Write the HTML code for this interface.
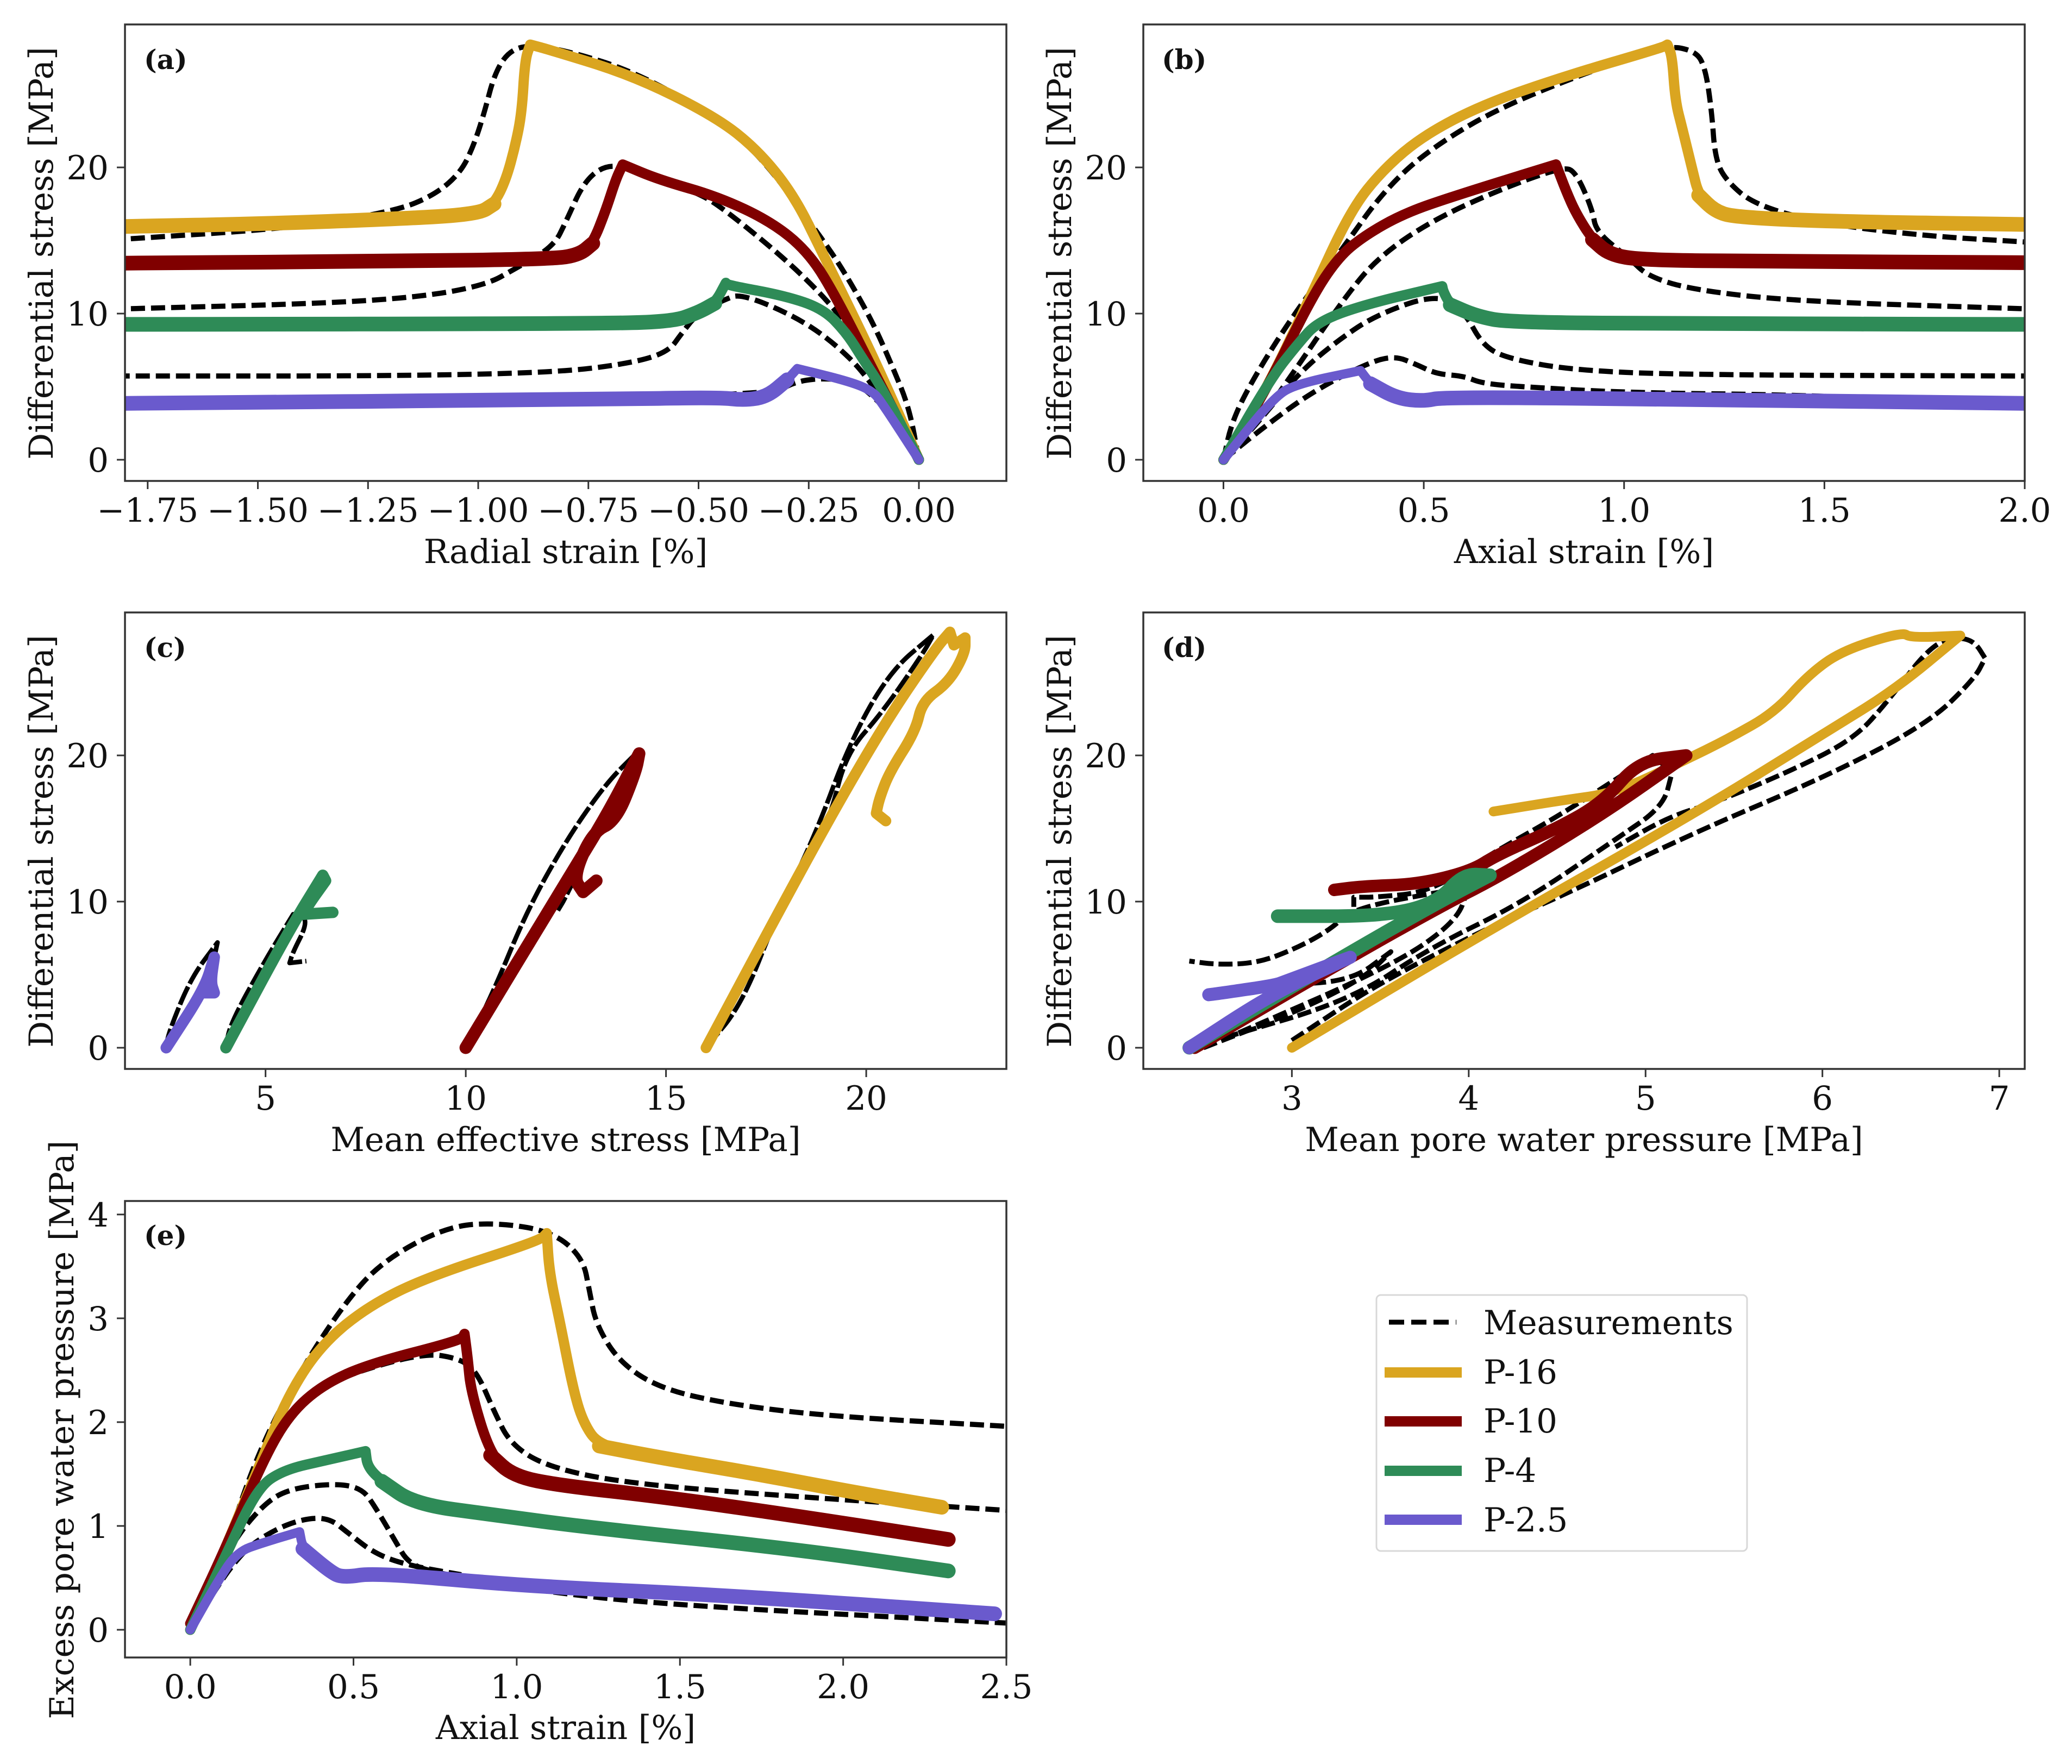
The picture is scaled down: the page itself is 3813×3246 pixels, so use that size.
<!DOCTYPE html>
<html lang="en">
<head>
<meta charset="utf-8">
<title>Stress and pore pressure response: measurements versus P-series simulations</title>
<style>
html,body{margin:0;padding:0;background:#fff;}
svg{display:block;font-family:"DejaVu Serif","Liberation Serif",serif;}
text{fill:#111;}
</style>
</head>
<body>
<svg id="figure" xmlns="http://www.w3.org/2000/svg" width="3813" height="3246" viewBox="0 0 3813 3246">
  <rect width="3813" height="3246" fill="#fff"/>
  <g id="panels"></g>

  <text x="265" y="127" font-size="50" font-weight="700">(a)</text>
  <text x="2138" y="127" font-size="50" font-weight="700">(b)</text>
  <text x="265" y="1209" font-size="50" font-weight="700">(c)</text>
  <text x="2138" y="1209" font-size="50" font-weight="700">(d)</text>
  <text x="265" y="2291" font-size="50" font-weight="700">(e)</text>

  <text x="1041" y="1036" font-size="61" text-anchor="middle">Radial strain [%]</text>
  <text x="2915" y="1036" font-size="61" text-anchor="middle">Axial strain [%]</text>
  <text x="1041" y="2118" font-size="61" text-anchor="middle">Mean effective stress [MPa]</text>
  <text x="2915" y="2118" font-size="61" text-anchor="middle">Mean pore water pressure [MPa]</text>
  <text x="1041" y="3200" font-size="61" text-anchor="middle">Axial strain [%]</text>

  <text transform="translate(97 466) rotate(-90)" font-size="61" text-anchor="middle">Differential stress [MPa]</text>
  <text transform="translate(1971 466) rotate(-90)" font-size="61" text-anchor="middle">Differential stress [MPa]</text>
  <text transform="translate(97 1548) rotate(-90)" font-size="61" text-anchor="middle">Differential stress [MPa]</text>
  <text transform="translate(1971 1548) rotate(-90)" font-size="61" text-anchor="middle">Differential stress [MPa]</text>
  <text transform="translate(135 2631) rotate(-90)" font-size="61" text-anchor="middle">Excess pore water pressure [MPa]</text>

  <g>
    <rect x="2533" y="2383" width="682" height="471" rx="8" ry="8" fill="#fff" stroke="#d8d8d8" stroke-width="3"/>
    <line x1="2556" y1="2433" x2="2680" y2="2433" stroke="#000" stroke-width="9" stroke-dasharray="28 13"/>
    <text x="2730" y="2455" font-size="61">Measurements</text>
    <rect x="2548" y="2516" width="142" height="19" fill="#DAA520"/>
    <text x="2730" y="2546" font-size="61">P-16</text>
    <rect x="2548" y="2606" width="142" height="19" fill="#800000"/>
    <text x="2730" y="2636" font-size="61">P-10</text>
    <rect x="2548" y="2697" width="142" height="19" fill="#2E8B57"/>
    <text x="2730" y="2727" font-size="61">P-4</text>
    <rect x="2548" y="2787" width="142" height="19" fill="#6A5ACD"/>
    <text x="2730" y="2818" font-size="61">P-2.5</text>
  </g>
</svg>

<script>
// ---- Panel (a): radial strain [%] vs differential stress [MPa] ----
const aP16X = [0,-.082,-.142,-.217,-.284,-.366,-.463,-.65,-.844,-.882,-.894,-.901,-.916,-.937,-.964,-1.0,-1.188,-1.487,-1.8];
const aP16Y = [0,5.6,9.44,14.04,18.13,21.2,23.5,26.3,28.1,28.4,27.3,23.76,21.46,19.16,17.5,16.8,16.47,16.14,15.96];
const aP10X = [0,-.09,-.194,-.254,-.336,-.456,-.59,-.672,-.688,-.71,-.74,-.77,-.83,-1.188,-1.8];
const aP10Y = [0,5.3,11.5,14.3,16.3,18,19.16,20.2,19.16,17.1,14.8,14.04,13.73,13.58,13.45];
const aP4X = [0,-.082,-.127,-.164,-.217,-.306,-.433,-.438,-.463,-.5,-.56,-.74,-1.8];
const aP4Y = [0,4.83,6.88,8.67,10.33,11.23,11.94,12.1,10.7,10.08,9.44,9.31,9.26];
const aP25X = [0,-.082,-.105,-.157,-.276,-.299,-.344,-.396,-.456,-.74,-1.8];
const aP25Y = [0,3.81,4.7,5.35,6.24,5.47,4.32,4.07,4.27,4.12,3.86];
const aM16X = [0,-.022,-.06,-.105,-.172,-.224,-.366,-.486,-.65,-.8,-.889,-.934,-.964,-.986,-1.009,-1.039,-1.098,-1.188,-1.427,-1.8];
const aM16Y = [0,3.55,6.37,9.44,13,15.3,21.07,23.9,26.6,28,28.4,27.85,26.3,23.76,21.6,19.67,18.13,17,15.83,15.1];
const aM10X = [0,-.08,-.157,-.217,-.306,-.44,-.5,-.665,-.717,-.762,-.8,-.83,-.92,-.98,-1.113,-1.338,-1.8];
const aM10Y = [0,5,9,11.2,13.8,17.1,18.26,20.05,20.1,18.9,16.34,14.55,13,12,11.2,10.7,10.33];
const aM4X = [0,-.112,-.2,-.29,-.404,-.44,-.5,-.538,-.568,-.65,-.815,-1.188,-1.8];
const aM4Y = [0,5.6,8.2,9.95,11.35,10.97,10.08,8.67,7.39,6.62,5.98,5.73,5.73];
const aM25X = [0,-.06,-.12,-.15,-.2,-.28,-.34,-1.8];
const aM25Y = [0,3,4.8,5.2,5.6,5.4,4.3,3.9];

// ---- Panel (b): axial strain [%] vs differential stress [MPa] ----
const bP16X = [0,.103,.218,.318,.4,.5,.648,.847,1.095,1.108,1.12,1.128,1.145,1.17,1.186,1.227,1.277,1.509,2];
const bP16Y = [0,4.58,11.2,17.1,19.9,22.2,24.3,26.2,28.2,28.4,27.6,24.5,22.7,19.9,18.1,17,16.6,16.3,16.1];
const bP10X = [0,.103,.218,.285,.35,.45,.582,.83,.855,.88,.921,.963,1.045,1.343,2];
const bP10Y = [0,4.58,11,13.8,15.3,16.85,18.1,20.2,18.4,16.85,15.06,14.04,13.66,13.58,13.48];
const bP4X = [0,.119,.185,.235,.35,.546,.549,.566,.632,.715,1.178,2];
const bP4Y = [0,5.6,7.9,9.44,10.6,11.87,11.5,10.6,9.82,9.39,9.31,9.26];
const bP25X = [0,.127,.185,.342,.367,.433,.5,.55,1.178,2];
const bP25Y = [0,4.32,5.2,6.1,5.2,4.2,4,4.3,4.12,3.86];
const bM16X = [0,.02,.07,.169,.3,.4,.516,.715,1.095,1.178,1.203,1.219,1.227,1.252,1.327,1.509,1.757,2];
const bM16Y = [0,2.53,5.35,9.7,14.55,18.4,21.3,24.5,28.36,28,26.8,23.76,20.7,19.16,17.4,16.1,15.3,14.9];
const bM10X = [0,.086,.185,.3,.384,.516,.682,.847,.88,.921,.93,1.012,1.062,1.178,1.426,2];
const bM10Y = [0,2.53,6.37,11,13.8,16.3,18.4,20.05,19.67,17.1,15.6,13.8,12.5,11.6,10.84,10.33];
const bM4X = [0,.086,.185,.285,.384,.533,.6,.648,.715,.88,1.178,2];
const bM4Y = [0,2.53,5.86,8.16,9.95,11.35,10.2,7.77,6.88,6.1,5.8,5.73];
const bM25X = [0,.103,.218,.35,.425,.483,.533,.6,.648,.764,1.012,1.426,2];
const bM25Y = [0,2.28,4.58,6.5,7.14,6.5,5.86,5.73,5.2,4.96,4.58,4.45,3.8];

// ---- Panel (c): mean effective stress [MPa] vs differential stress [MPa] ----
const cP16X = [16,17.78,19.26,20.58,21.73,22.09,22.19,22.47,22.47,22.06,21.4,21.23,20.58,20.33,20.25,20.49];
const cP16Y = [0,9.13,16.55,22.7,27.3,28.44,27.55,28.05,27.03,25,23.7,21.66,18.85,17.06,16.04,15.52];
const cP10X = [10,12.52,13.5,14.33,14.24,13.75,13.17,12.68,12.93,13.26];
const cP10Y = [0,11.43,15.8,20.13,18.85,15.52,14.76,11.69,10.66,11.43];
const cP4X = [4.01,5.6,6.43,6.5,6.1,5.94,6.68];
const cP4Y = [0,8.1,11.8,11.43,9.9,9.13,9.26];
const cP25X = [2.52,3.47,3.72,3.63,3.72,3.39];
const cP25Y = [0,4,6.2,4.5,3.76,3.76];
const cM16X = [16,16.9,17.78,18.75,19.59,20.59,21.68,21.4,20.4,19.5,19.1,18.68];
const cM16Y = [0,3,9.13,14.7,20.9,25.75,28.26,26.9,22.94,20.13,15.78,13.73];
const cM10X = [10,10.7,11.53,12.52,13.5,14.25,13.9,12.52,12.3];
const cM10Y = [0,3.89,9.39,14.25,18.08,20.13,18.3,10.4,9.39];
const cM4X = [4,4.13,4.95,5.69,5.94,6.02,5.69,5.6,6.02];
const cM4Y = [0,1.7,5.8,9.13,9.13,8.36,6.57,5.8,5.93];
const cM25X = [2.5,2.62,3.14,3.8,3.72,3.63,3.8];
const cM25Y = [0,1.33,4.78,7.2,6.2,4.5,3.8];

// ---- Panel (d): mean pore water pressure [MPa] vs differential stress [MPa] ----
const dP16X = [3,4.16,5.28,6.03,6.41,6.78,6.5,6.45,6.11,5.92,5.73,5.47,5.21,4.83,4.53,4.14];
const dP16Y = [0,8.36,16.04,21.66,24.5,28.2,28.05,28.44,27.16,25.5,22.94,21.15,19.6,17.44,16.93,16.16];
const dP10X = [2.45,3.3,3.86,4.2,4.76,5.23,4.96,4.76,4.5,4.16,4.01,3.71,3.41,3.24];
const dP10Y = [0,6,9.8,11.9,16,20,19.6,16.8,15,13.2,12.07,11.18,11.05,10.8];
const dP4X = [2.42,3.3,3.82,4.12,3.97,3.82,3.52,2.92];
const dP4Y = [0,6.32,9.9,11.8,11.9,9.9,9,9];
const dP25X = [2.42,2.88,3.33,2.96,2.9,2.58,2.53];
const dP25Y = [0,3.63,6.19,4.53,4.27,3.7,3.63];
const dM16X = [3,3.5,4.16,4.53,5.28,6.03,6.6,6.86,6.92,6.86,6.76,6.61,6.37,6.18,5.85,5.4,5.13,4.83];
const dM16Y = [.5,4.5,8.5,10.4,14.75,18.6,22.2,25.25,26.65,27.8,28.1,27.5,23.7,21.15,19.1,16.8,15.8,13.73];
const dM10X = [2.62,3.33,3.78,4.3,4.83,5.1,5.15,5.04,4.53,4.16,3.78,3.48,3.35,3.35];
const dM10Y = [.7,3.25,6.83,9.9,14.25,16.5,18.85,20,16,13.5,10.66,10.3,10.3,9.64];
const dM4X = [2.6,3.56,3.93,4,3.35,3.22,3.03,2.81,2.58,2.42];
const dM4Y = [.5,5.55,8.6,11,9.6,8.1,6.83,5.8,5.68,5.93];
const dM25X = [2.5,3.03,3.41,3.56,3.33,2.9];
const dM25Y = [0,2.48,4.78,6.57,4.53,4.3];

// ---- Panel (e): axial strain [%] vs excess pore water pressure [MPa] ----
const eP16X = [0,.103,.224,.305,.406,.547,.728,1.071,1.092,1.1,1.132,1.172,1.203,1.253,1.435,1.737,2.04,2.302];
const eP16Y = [0,.75,1.68,2.29,2.76,3.12,3.4,3.75,3.82,3.44,2.97,2.33,2,1.77,1.66,1.5,1.32,1.18];
const eP10X = [0,.103,.224,.305,.406,.547,.83,.84,.85,.86,.92,.99,1.132,1.435,1.838,2.322];
const eP10Y = [.06,.75,1.64,2.08,2.36,2.56,2.79,2.85,2.61,2.29,1.68,1.48,1.39,1.285,1.106,.87];
const eP4X = [0,.103,.204,.285,.426,.537,.543,.587,.688,.93,1.233,1.838,2.322];
const eP4Y = [0,.675,1.36,1.54,1.64,1.72,1.57,1.43,1.21,1.106,.98,.783,.567];
const eP25X = [0,.083,.143,.224,.335,.345,.426,.466,.567,1.03,1.636,2.464];
const eP25Y = [0,.46,.75,.84,.944,.78,.567,.5,.55,.42,.334,.154];
const eM16X = [0,.103,.204,.325,.466,.587,.789,.95,1.112,1.203,1.223,1.243,1.314,1.435,1.636,1.94,2.5];
const eM16Y = [0,.75,1.68,2.43,3.12,3.55,3.89,3.92,3.83,3.58,3.26,2.94,2.58,2.33,2.18,2.06,1.96];
const eM10X = [0,.103,.224,.305,.426,.708,.83,.88,.93,.98,1.092,1.334,1.838,2.5];
const eM10Y = [0,.75,1.61,2.11,2.4,2.67,2.61,2.47,2.11,1.79,1.57,1.41,1.285,1.15];
const eM4X = [0,.123,.224,.305,.446,.527,.567,.628,.668,.749,1.03,1.435,2.5];
const eM4Y = [0,.82,1.21,1.36,1.41,1.36,1.18,.855,.64,.55,.39,.244,.065];
const eM25X = [0,.143,.244,.345,.426,.486,.567,.668,.83];
const eM25Y = [0,.71,.944,1.07,1.077,.926,.73,.62,.53];

// ---- Tick values and labels ----
const aXTicks = [-1.75,-1.5,-1.25,-1,-.75,-.5,-.25,0];
const aXTickLabels = ['−1.75','−1.50','−1.25','−1.00','−0.75','−0.50','−0.25','0.00'];
const bXTicks = [0,.5,1,1.5,2];
const bXTickLabels = ['0.0','0.5','1.0','1.5','2.0'];
const cXTicks = [5,10,15,20];
const cXTickLabels = ['5','10','15','20'];
const dXTicks = [3,4,5,6,7];
const dXTickLabels = ['3','4','5','6','7'];
const eXTicks = [0,.5,1,1.5,2,2.5];
const eXTickLabels = ['0.0','0.5','1.0','1.5','2.0','2.5'];
const stressTicks = [0,10,20];
const stressTickLabels = ['0','10','20'];
const excessTicks = [0,1,2,3,4];
const excessTickLabels = ['0','1','2','3','4'];

// ---- Layout and styling (separate from the data) ----
const NS = 'http://www.w3.org/2000/svg';
const root = document.getElementById('panels');
const seriesColors = {P16:'#DAA520', P10:'#800000', P4:'#2E8B57', P25:'#6A5ACD'};
const seriesSlugs = {P16:'p16', P10:'p10', P4:'p4', P25:'p2-5'};
const strainWidths = {P16:19, P10:19, P4:19, P25:17};
const stressPathWidths = {P16:20, P10:23, P4:21, P25:21};
const porePathWidths = {P16:18, P10:23, P4:25, P25:24};

const panels = [
  {id:'a', box:[230,45,1852,885], xlim:[-1.8015,.1985], ylim:[-1.45,29.78], xt:aXTicks, xl:aXTickLabels, yt:stressTicks, yl:stressTickLabels, labelGap:30, dashW:9.5, dash:'26 11', tail:true, widths:strainWidths,
   model:{P16:[aP16X,aP16Y],P10:[aP10X,aP10Y],P4:[aP4X,aP4Y],P25:[aP25X,aP25Y]},
   meas:{P16:[aM16X,aM16Y],P10:[aM10X,aM10Y],P4:[aM4X,aM4Y],P25:[aM25X,aM25Y]}},
  {id:'b', box:[2104,45,3726,885], xlim:[-.2,2], ylim:[-1.45,29.78], xt:bXTicks, xl:bXTickLabels, yt:stressTicks, yl:stressTickLabels, labelGap:30, dashW:9.5, dash:'26 11', tail:true, widths:strainWidths,
   model:{P16:[bP16X,bP16Y],P10:[bP10X,bP10Y],P4:[bP4X,bP4Y],P25:[bP25X,bP25Y]},
   meas:{P16:[bM16X,bM16Y],P10:[bM10X,bM10Y],P4:[bM4X,bM4Y],P25:[bM25X,bM25Y]}},
  {id:'c', box:[230,1127,1852,1967], xlim:[1.49,23.5], ylim:[-1.45,29.78], xt:cXTicks, xl:cXTickLabels, yt:stressTicks, yl:stressTickLabels, labelGap:30, dashW:8.5, dash:'36 6', tail:false, widths:stressPathWidths,
   model:{P16:[cP16X,cP16Y],P10:[cP10X,cP10Y],P4:[cP4X,cP4Y],P25:[cP25X,cP25Y]},
   meas:{P16:[cM16X,cM16Y],P10:[cM10X,cM10Y],P4:[cM4X,cM4Y],P25:[cM25X,cM25Y]}},
  {id:'d', box:[2104,1127,3726,1967], xlim:[2.16,7.144], ylim:[-1.45,29.78], xt:dXTicks, xl:dXTickLabels, yt:stressTicks, yl:stressTickLabels, labelGap:30, dashW:9, dash:'26 9', tail:false, widths:porePathWidths,
   model:{P16:[dP16X,dP16Y],P10:[dP10X,dP10Y],P4:[dP4X,dP4Y],P25:[dP25X,dP25Y]},
   meas:{P16:[dM16X,dM16Y],P10:[dM10X,dM10Y],P4:[dM4X,dM4Y],P25:[dM25X,dM25Y]}},
  {id:'e', box:[230,2210,1852,3050], xlim:[-.2,2.5], ylim:[-.267,4.13], xt:eXTicks, xl:eXTickLabels, yt:excessTicks, yl:excessTickLabels, labelGap:30, dashW:9.5, dash:'26 11', tail:true, widths:strainWidths,
   model:{P16:[eP16X,eP16Y],P10:[eP10X,eP10Y],P4:[eP4X,eP4Y],P25:[eP25X,eP25Y]},
   meas:{P16:[eM16X,eM16Y],P10:[eM10X,eM10Y],P4:[eM4X,eM4Y],P25:[eM25X,eM25Y]}}
];

function axisX(panel, v){
  const b = panel.box;
  return b[0] + (v - panel.xlim[0]) / (panel.xlim[1] - panel.xlim[0]) * (b[2] - b[0]);
}
function axisY(panel, v){
  const b = panel.box;
  return b[3] - (v - panel.ylim[0]) / (panel.ylim[1] - panel.ylim[0]) * (b[3] - b[1]);
}
// Builds a path through the read values; gentle bends are rounded, sharp peaks stay sharp.
function pathFor(panel, xs, ys, from){
  const p = [];
  for (let i = from; i < xs.length; i++) {
    p.push([axisX(panel, xs[i]), axisY(panel, ys[i])]);
  }
  const f = function(q){ return q[0].toFixed(1) + ' ' + q[1].toFixed(1); };
  let d = 'M' + f(p[0]);
  for (let i = 1; i < p.length - 1; i++) {
    const a1 = Math.atan2(p[i][1] - p[i-1][1], p[i][0] - p[i-1][0]);
    const a2 = Math.atan2(p[i+1][1] - p[i][1], p[i+1][0] - p[i][0]);
    let turn = Math.abs(a2 - a1);
    if (turn > Math.PI) turn = 2 * Math.PI - turn;
    if (turn < 1.0) {
      const m1 = [(p[i-1][0] + p[i][0]) / 2, (p[i-1][1] + p[i][1]) / 2];
      const m2 = [(p[i][0] + p[i+1][0]) / 2, (p[i][1] + p[i+1][1]) / 2];
      d += ' L' + f(m1) + ' Q' + f(p[i]) + ' ' + f(m2);
    } else {
      d += ' L' + f(p[i]);
    }
  }
  d += ' L' + f(p[p.length - 1]);
  return d;
}
// First vertex after the peak where the curve has flattened into its residual tail.
function tailStart(panel, xs, ys){
  let peak = 0;
  for (let i = 1; i < ys.length; i++) { if (ys[i] > ys[peak]) peak = i; }
  for (let i = peak + 1; i < xs.length - 1; i++) {
    const dx = Math.abs(axisX(panel, xs[i + 1]) - axisX(panel, xs[i]));
    const dy = Math.abs(axisY(panel, ys[i + 1]) - axisY(panel, ys[i]));
    if (dy < dx) return i;
  }
  return xs.length - 2;
}

panels.forEach(function(panel){
  const b = panel.box;
  const g = document.createElementNS(NS, 'g');
  
  
  root.appendChild(g);

  const defs = document.createElementNS(NS, 'defs');
  const clip = document.createElementNS(NS, 'clipPath');
  clip.setAttribute('id', 'clip-' + panel.id);
  const clipRect = document.createElementNS(NS, 'rect');
  clipRect.setAttribute('x', b[0]);
  clipRect.setAttribute('y', b[1]);
  clipRect.setAttribute('width', b[2] - b[0]);
  clipRect.setAttribute('height', b[3] - b[1]);
  clip.appendChild(clipRect);
  defs.appendChild(clip);
  g.appendChild(defs);

  const plot = document.createElementNS(NS, 'g');
  plot.setAttribute('clip-path', 'url(#clip-' + panel.id + ')');
  
  
  g.appendChild(plot);

  Object.keys(panel.meas).forEach(function(key){
    const line = document.createElementNS(NS, 'path');
    
    
    line.setAttribute('d', pathFor(panel, panel.meas[key][0], panel.meas[key][1], 0));
    line.setAttribute('fill', 'none');
    line.setAttribute('stroke', '#000');
    line.setAttribute('stroke-width', panel.dashW);
    line.setAttribute('stroke-dasharray', panel.dash);
    line.setAttribute('stroke-linejoin', 'round');
    plot.appendChild(line);
  });

  Object.keys(panel.model).forEach(function(key){
    const xs = panel.model[key][0];
    const ys = panel.model[key][1];
    const line = document.createElementNS(NS, 'path');
    
    
    line.setAttribute('d', pathFor(panel, xs, ys, 0));
    line.setAttribute('fill', 'none');
    line.setAttribute('stroke', seriesColors[key]);
    line.setAttribute('stroke-width', panel.widths[key]);
    line.setAttribute('stroke-linejoin', 'round');
    line.setAttribute('stroke-linecap', 'round');
    plot.appendChild(line);
    if (panel.tail) {
      const tail = document.createElementNS(NS, 'path');
      
      
      tail.setAttribute('d', pathFor(panel, xs, ys, tailStart(panel, xs, ys)));
      tail.setAttribute('fill', 'none');
      tail.setAttribute('stroke', seriesColors[key]);
      tail.setAttribute('stroke-width', 27);
      tail.setAttribute('stroke-linejoin', 'round');
      tail.setAttribute('stroke-linecap', 'round');
      plot.appendChild(tail);
    }
  });

  const frame = document.createElementNS(NS, 'rect');
  
  
  frame.setAttribute('x', b[0]);
  frame.setAttribute('y', b[1]);
  frame.setAttribute('width', b[2] - b[0]);
  frame.setAttribute('height', b[3] - b[1]);
  frame.setAttribute('fill', 'none');
  frame.setAttribute('stroke', '#333');
  frame.setAttribute('stroke-width', 3.5);
  g.appendChild(frame);

  panel.xt.forEach(function(v, i){
    const px = axisX(panel, v);
    const tick = document.createElementNS(NS, 'line');
    
    
    tick.setAttribute('x1', px);
    tick.setAttribute('x2', px);
    tick.setAttribute('y1', b[3]);
    tick.setAttribute('y2', b[3] + 15);
    tick.setAttribute('stroke', '#333');
    tick.setAttribute('stroke-width', 3);
    g.appendChild(tick);
    const label = document.createElementNS(NS, 'text');
    
    
    label.setAttribute('x', px);
    label.setAttribute('y', b[3] + 75);
    label.setAttribute('font-size', '61');
    label.setAttribute('text-anchor', 'middle');
    label.textContent = panel.xl[i];
    g.appendChild(label);
  });

  panel.yt.forEach(function(v, i){
    const py = axisY(panel, v);
    const tick = document.createElementNS(NS, 'line');
    
    
    tick.setAttribute('x1', b[0] - 15);
    tick.setAttribute('x2', b[0]);
    tick.setAttribute('y1', py);
    tick.setAttribute('y2', py);
    tick.setAttribute('stroke', '#333');
    tick.setAttribute('stroke-width', 3);
    g.appendChild(tick);
    const label = document.createElementNS(NS, 'text');
    
    
    label.setAttribute('x', b[0] - panel.labelGap);
    label.setAttribute('y', py + 22);
    label.setAttribute('font-size', '61');
    label.setAttribute('text-anchor', 'end');
    label.textContent = panel.yl[i];
    g.appendChild(label);
  });
});
</script>
</body>
</html>
